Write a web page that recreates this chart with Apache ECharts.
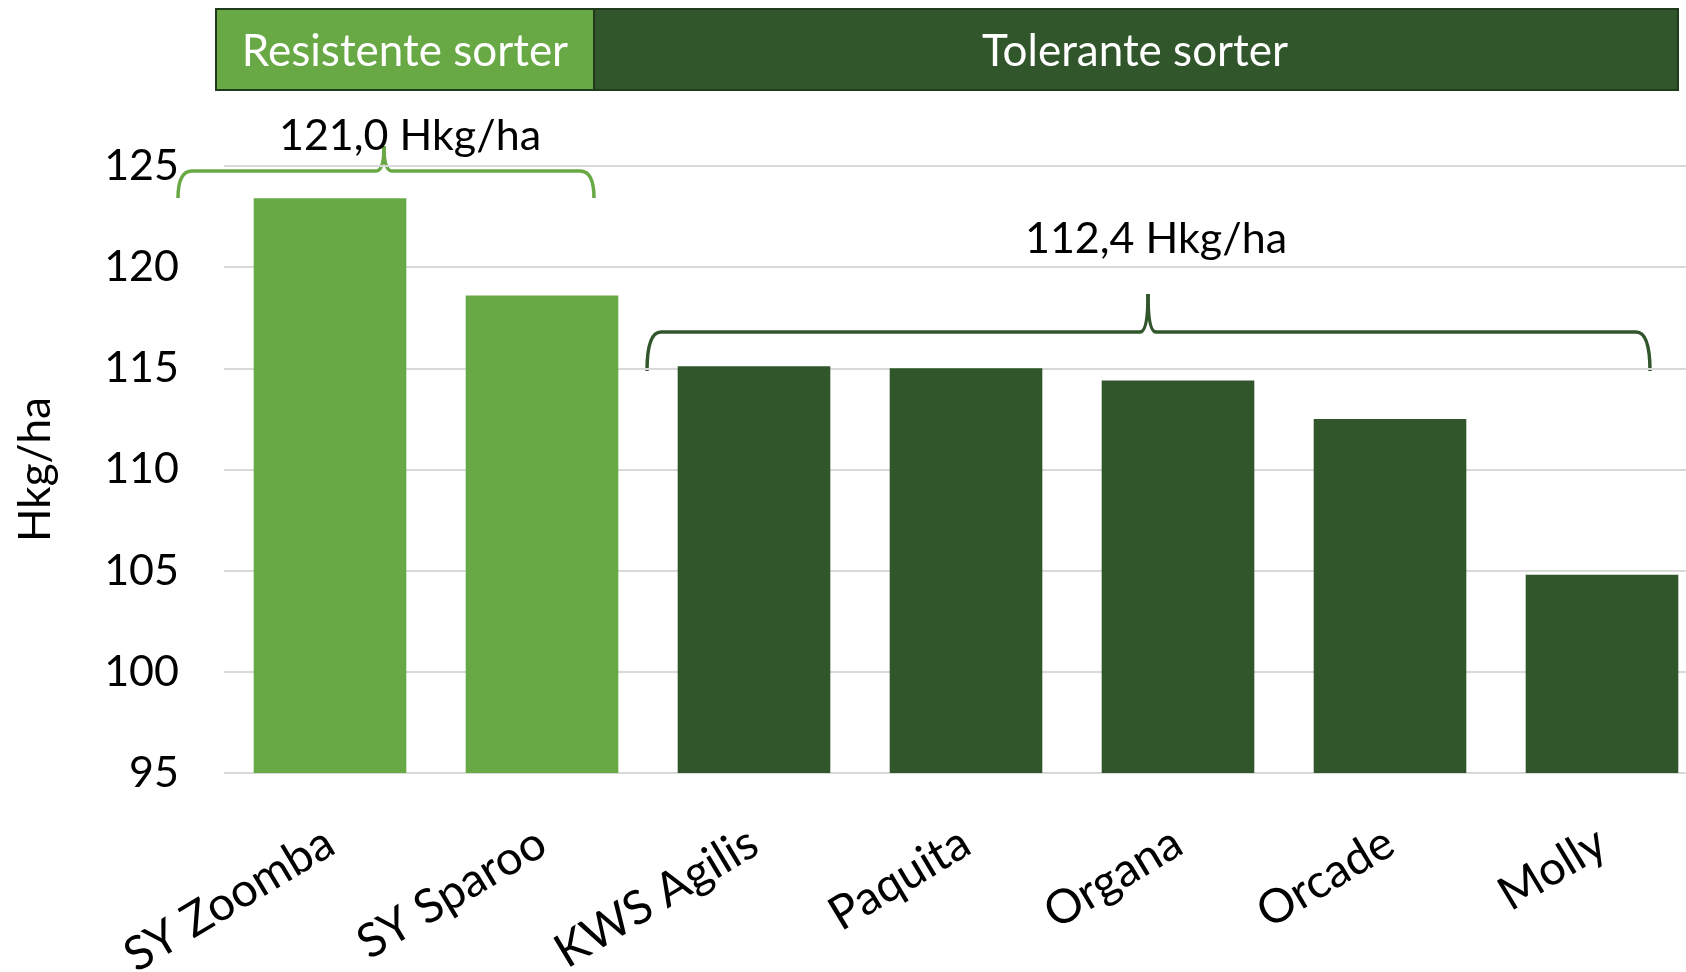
<!DOCTYPE html>
<html>
<head>
<meta charset="utf-8">
<script src="https://cdn.jsdelivr.net/npm/echarts@6/dist/echarts.min.js"></script>
<style>
  html, body { margin: 0; padding: 0; background: #fff; }
  #main { width: 1686px; height: 972px; }
</style>
</head>
<body>
<div id="main"></div>
<script>
// data
var sorter = ['SY Zoomba', 'SY Sparoo', 'KWS Agilis', 'Paquita', 'Organa', 'Orcade', 'Molly'];
var udbytte = [123.4, 118.6, 115.1, 115.0, 114.4, 112.5, 104.8];
var gruppe = ['res', 'res', 'tol', 'tol', 'tol', 'tol', 'tol'];
var yTicks = [95, 100, 105, 110, 115, 120, 125];
var gruppeNavne = ['Resistente sorter', 'Tolerante sorter'];
var gennemsnit = ['121,0 Hkg/ha', '112,4 Hkg/ha'];

var lysGroen = '#68a845';
var moerkGroen = '#31562b';
var font = 'Lato';

// klamme tegnet af linjer og kurver
function klamme(x0, x1, tip, yLinje, yEnde, yTip, farve) {
	var st = { stroke: farve, lineWidth: 3.5, fill: 'none' };
	var r = 14;
	return {
		type: 'group', z: 12,
		children: [
			{ type: 'bezierCurve', shape: { x1: x0, y1: yEnde, cpx1: x0, cpy1: yLinje, x2: x0 + r, y2: yLinje }, style: st },
			{ type: 'line', shape: { x1: x0 + r, y1: yLinje, x2: tip - 8, y2: yLinje }, style: st },
			{ type: 'bezierCurve', shape: { x1: tip - 8, y1: yLinje, cpx1: tip, cpy1: yLinje, x2: tip, y2: yTip }, style: st },
			{ type: 'bezierCurve', shape: { x1: tip, y1: yTip, cpx1: tip, cpy1: yLinje, x2: tip + 8, y2: yLinje }, style: st },
			{ type: 'line', shape: { x1: tip + 8, y1: yLinje, x2: x1 - r, y2: yLinje }, style: st },
			{ type: 'bezierCurve', shape: { x1: x1 - r, y1: yLinje, cpx1: x1, cpy1: yLinje, x2: x1, y2: yEnde }, style: st }
		]
	};
}

var myChart = echarts.init(document.getElementById('main'));

var option = {
	backgroundColor: '#fff',
	animation: false,
	textStyle: { fontFamily: font },
	grid: {
		left: 224,
		right: -22,
		top: 166,
		bottom: 199,
		containLabel: false,
		outerBoundsMode: 'none'
	},
	xAxis: {
		type: 'category',
		data: sorter,
		axisLine: { show: false },
		axisTick: { show: false },
		axisLabel: {
			interval: 0,
			rotate: 31,
			margin: 66,
			fontSize: 47,
			color: '#000',
			fontFamily: font
		}
	},
	yAxis: {
		type: 'value',
		min: yTicks[0],
		max: yTicks[yTicks.length - 1],
		interval: 5,
		name: 'Hkg/ha',
		nameLocation: 'middle',
		nameRotate: 90,
		nameGap: 166,
		nameTextStyle: { fontSize: 44, color: '#000', fontFamily: font },
		axisLine: { show: false },
		axisTick: { show: false },
		axisLabel: { fontSize: 43, color: '#000', margin: 45, fontFamily: font },
		splitLine: { lineStyle: { color: '#d9d9d9', width: 2 } }
	},
	series: [{
		type: 'bar',
		barCategoryGap: '28%',
		data: udbytte.map(function (v, i) {
			return {
				value: v,
				itemStyle: { color: gruppe[i] == 'res' ? lysGroen : moerkGroen }
			};
		})
	}],
	graphic: [
		// overskrifter
		{
			type: 'rect', z: 10,
			shape: { x: 216, y: 9, width: 378, height: 81 },
			style: { fill: lysGroen, stroke: '#1f3b1c', lineWidth: 2 }
		},
		{
			type: 'rect', z: 10,
			shape: { x: 594, y: 9, width: 1084, height: 81 },
			style: { fill: moerkGroen, stroke: '#1f3b1c', lineWidth: 2 }
		},
		{
			type: 'text', z: 11, x: 405, y: 52,
			style: { text: gruppeNavne[0], fill: '#fff', font: '44px ' + font, align: 'center', verticalAlign: 'middle' }
		},
		{
			type: 'text', z: 11, x: 1135, y: 52,
			style: { text: gruppeNavne[1], fill: '#fff', font: '44px ' + font, align: 'center', verticalAlign: 'middle' }
		},
		// klammer
		klamme(178, 594, 384, 171, 198, 146, lysGroen),
		klamme(647, 1650, 1148, 332, 371, 294, moerkGroen),
		{
			type: 'text', z: 12, x: 410, y: 136,
			style: { text: gennemsnit[0], fill: '#000', font: '43px ' + font, align: 'center', verticalAlign: 'middle' }
		},
		{
			type: 'text', z: 12, x: 1156, y: 239,
			style: { text: gennemsnit[1], fill: '#000', font: '43px ' + font, align: 'center', verticalAlign: 'middle' }
		}
	]
};
myChart.setOption(option);
</script>
</body>
</html>
